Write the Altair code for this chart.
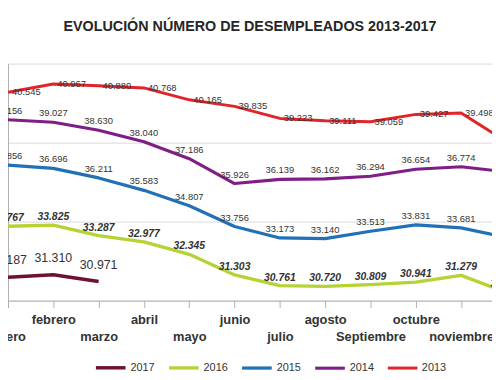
import altair as alt
import pandas as pd

months = ["enero", "febrero", "marzo", "abril", "mayo", "junio", "julio",
          "agosto", "Septiembre", "octubre", "noviembre", "diciembre"]

v2013 = [40545, 40967, 40880, 40768, 40165, 39835, 39223, 39111, 39059, 39427, 39498, 38052]
v2014 = [39156, 39027, 38630, 38040, 37186, 35926, 36139, 36162, 36294, 36654, 36774, 36521]
v2015 = [36856, 36696, 36211, 35583, 34807, 33756, 33173, 33140, 33513, 33831, 33681, 33210]
v2016 = [33767, 33825, 33287, 32977, 32345, 31303, 30761, 30720, 30809, 30941, 31279, 30420]
v2017 = [31187, 31310, 30971]

years = ["2017", "2016", "2015", "2014", "2013"]
colors = ["#6E1231", "#B5D334", "#2270B5", "#7F1E86", "#E0242A"]
widths = [3.5, 3, 3, 4.5, 4]

series = {"2013": v2013, "2014": v2014, "2015": v2015, "2016": v2016, "2017": v2017}
rows = []
for y, vals in series.items():
    for i, v in enumerate(vals):
        rows.append({"year": y, "idx": i, "month": months[i], "value": v,
                     "label": f"{v:,}".replace(",", ".")})
df = pd.DataFrame(rows)

label_expr = "[" + ",".join(f"'{m}'" for m in months) + "][datum.value]"

x_enc = alt.X("idx:Q",
              scale=alt.Scale(domain=[0, 11], range=[0, 504.6], nice=False, zero=False),
              axis=alt.Axis(values=list(range(11)), labelExpr=label_expr, title=None,
                            grid=False, domainColor="#b0b0b0", tickColor="#b0b0b0",
                            tickSize=7, labelFont="Liberation Sans", labelFontSize=13,
                            labelFontWeight="bold", labelColor="#333333",
                            labelOverlap=False, labelFlush=False, labelBaseline="top",
                            labelPadding={"condition": {"test": "datum.value % 2 == 0", "value": 23},
                                          "value": 6}))
y_enc = alt.Y("value:Q",
              scale=alt.Scale(domain=[30000, 42000], nice=False, zero=False),
              axis=alt.Axis(values=list(range(30000, 42001, 2000)), labels=False, ticks=False,
                            title=None, grid=True, gridColor="#d9d9d9",
                            domainColor="#b0b0b0"))

base = alt.Chart(df)

lines = base.mark_line(strokeCap="butt", strokeJoin="round").encode(
    x=x_enc, y=y_enc,
    color=alt.Color("year:N", sort=years,
                    scale=alt.Scale(domain=years, range=colors),
                    legend=alt.Legend(title=None, orient="none", direction="horizontal",
                                      legendX=87, legendY=291, symbolType="stroke",
                                      symbolSize=900, symbolStrokeWidth=3.5,
                                      labelFont="Liberation Sans", labelFontSize=11,
                                      labelColor="#333333", labelOffset=3,
                                      columnPadding=7, padding=0)),
    strokeWidth=alt.StrokeWidth("year:N", scale=alt.Scale(domain=years, range=widths),
                                legend=None),
    order=alt.Order("idx:Q"),
)

def labels(year, **kw):
    return base.transform_filter(alt.datum.year == year).mark_text(
        font="Liberation Sans", color="#333333", **kw
    ).encode(x=alt.X("idx:Q"), y=alt.Y("value:Q"), text="label:N")

t2013 = labels("2013", fontSize=9.5, align="left", baseline="middle", dx=4)
t2014 = labels("2014", fontSize=9.5, align="center", baseline="alphabetic", dy=-6)
t2015 = labels("2015", fontSize=9.5, align="center", baseline="alphabetic", dy=-6)
t2016 = labels("2016", fontSize=10.5, fontWeight="bold", fontStyle="italic",
               align="center", baseline="alphabetic", dy=-5)
t2017 = labels("2017", fontSize=12.5, align="center", baseline="alphabetic", dy=-13)

chart = alt.layer(lines, t2013, t2014, t2015, t2016, t2017).properties(
    width=490, height=240,
    autosize=alt.AutoSizeParams(type="none"),
    padding={"left": 0, "top": 54, "right": 0, "bottom": 72},
    title=alt.TitleParams(text="EVOLUCIÓN NÚMERO DE DESEMPLEADOS 2013-2017",
                          font="Liberation Sans", fontSize=14.5, fontWeight="bold",
                          color="#262626", anchor="middle", frame="group",
                          baseline="alphabetic", offset=18),
).configure_view(stroke=None)

chart.save("out.html", embed_options={"renderer": "svg", "actions": False})
